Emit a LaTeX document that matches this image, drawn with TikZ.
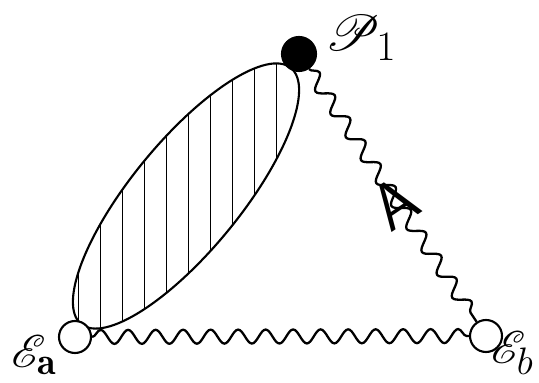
\documentclass[tikz,border=0pt]{standalone}
\usepackage{fontspec}
\usepackage{amsmath,amssymb,mathrsfs}
\usetikzlibrary{decorations.pathmorphing}

\begin{document}
\begin{tikzpicture}[vertex/.style={circle,draw,line width=1.2pt,inner sep=0pt,minimum size=6.4mm},
    blob/.style={vertex,fill=black,minimum size=6.8mm},
    photon/.style={line width=1.3pt,decorate,decoration={snake,segment length=5.5mm,amplitude=1.4mm}},
    tag/.style={font=\Huge,inner sep=0pt}]
    \useasboundingbox (0,0) rectangle (10.78,7.66);
    % hatched bound state
    \begin{scope}
        \clip[rotate around={50.65:(3.72,3.74)}] (3.72,3.74) ellipse (3.31 and 1.09);
        \foreach \i in {0,...,9} {
            \draw[line width=0.5pt] ({1.56+0.442*\i},0) -- ({1.56+0.442*\i},7.66);
        }
    \end{scope}
    \draw[line width=1.2pt,rotate around={50.65:(3.72,3.74)}] (3.72,3.74) ellipse (3.31 and 1.09);
    \node[blob] (P1) at (5.98,6.58) {};
    \node[vertex,fill=white] (Ea) at (1.50,0.92) {};
    \node[vertex,fill=white] (Eb) at (9.72,0.94) {};
    \draw[photon] (Ea) -- (Eb);
    \draw[photon] (P1) -- (Eb);
    \node[tag,anchor=north west] (lP1) at (6.5,7.36) {\scalebox{1.15}{$\mathscr{P}_1$}};
    \node[tag,anchor=south west] (lEa) at (0.22,0.16) {\scalebox{1.05}{$\mathscr{E}_{\mathbf{a}}$}};
    \node[tag,anchor=south east] (lEb) at (10.68,0.16) {\scalebox{1.05}{$\mathscr{E}_b$}};
    \node[font=\Huge\sffamily,rotate=34] (lA) at (7.9,3.6) {\scalebox{1.5}{A}};
\end{tikzpicture}
\end{document}
